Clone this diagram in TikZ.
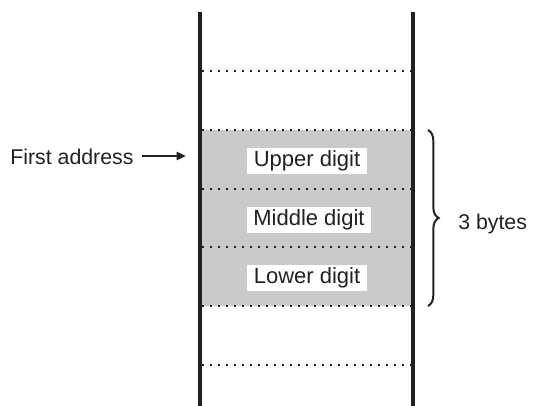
\documentclass[tikz,border=0pt]{standalone}
\usepackage{fontspec}
\setmainfont{Liberation Sans}
\usetikzlibrary{arrows.meta,decorations.pathreplacing}
\definecolor{memgray}{RGB}{201,202,204}
\definecolor{ink}{RGB}{35,31,32}
\begin{document}
\begin{tikzpicture}[x=0.75pt,y=-0.75pt,
  wall/.style={draw=ink,line width=2.4pt},
  sep/.style={draw=ink,line width=1.8pt,dash pattern=on 1.6pt off 4.4pt},
  cell/.style={fill=white,inner xsep=5pt,inner ysep=2pt,text=ink,font=\fontsize{16.5}{19}\selectfont},
  lbl/.style={text=ink,font=\fontsize{16}{19}\selectfont,inner sep=0pt},
  ptr/.style={draw=ink,line width=1.8pt,-{Triangle[length=7pt,width=6pt]}},
  brc/.style={draw=ink,line width=1.5pt,decorate,decoration={brace,amplitude=8pt}}]
\useasboundingbox (0,0) rectangle (536,406);
% gray block
\fill[memgray] (200,130) rectangle (413,306);
% dotted separators
\foreach \yy in {71,130,189,247,306,365}
  \draw[sep] (202,\yy) -- (411,\yy);
% walls
\coordinate (lt) at (200,12);
\coordinate (lb) at (200,406);
\coordinate (rt) at (413,12);
\coordinate (rb) at (413,406);
\draw[wall] (lt) -- (lb);
\draw[wall] (rt) -- (rb);
% labels
\node[cell] (up) at (307,161) {Upper digit};
\node[cell] (mid) at (309,220) {Middle digit};
\node[cell] (low) at (307,278) {Lower digit};
% first address
\node[lbl,anchor=west] (fa) at (10,157) {First address};
\coordinate (fastart) at (142,156);
\coordinate (fatip) at (186,156);
\draw[ptr] (fastart) -- (fatip);
% brace
\coordinate (bt) at (428,130);
\coordinate (bb) at (428,306);
\draw[brc] (bt) -- (bb);
\node[lbl,anchor=west] (nb) at (458,224) {3 bytes};
\end{tikzpicture}
\end{document}
